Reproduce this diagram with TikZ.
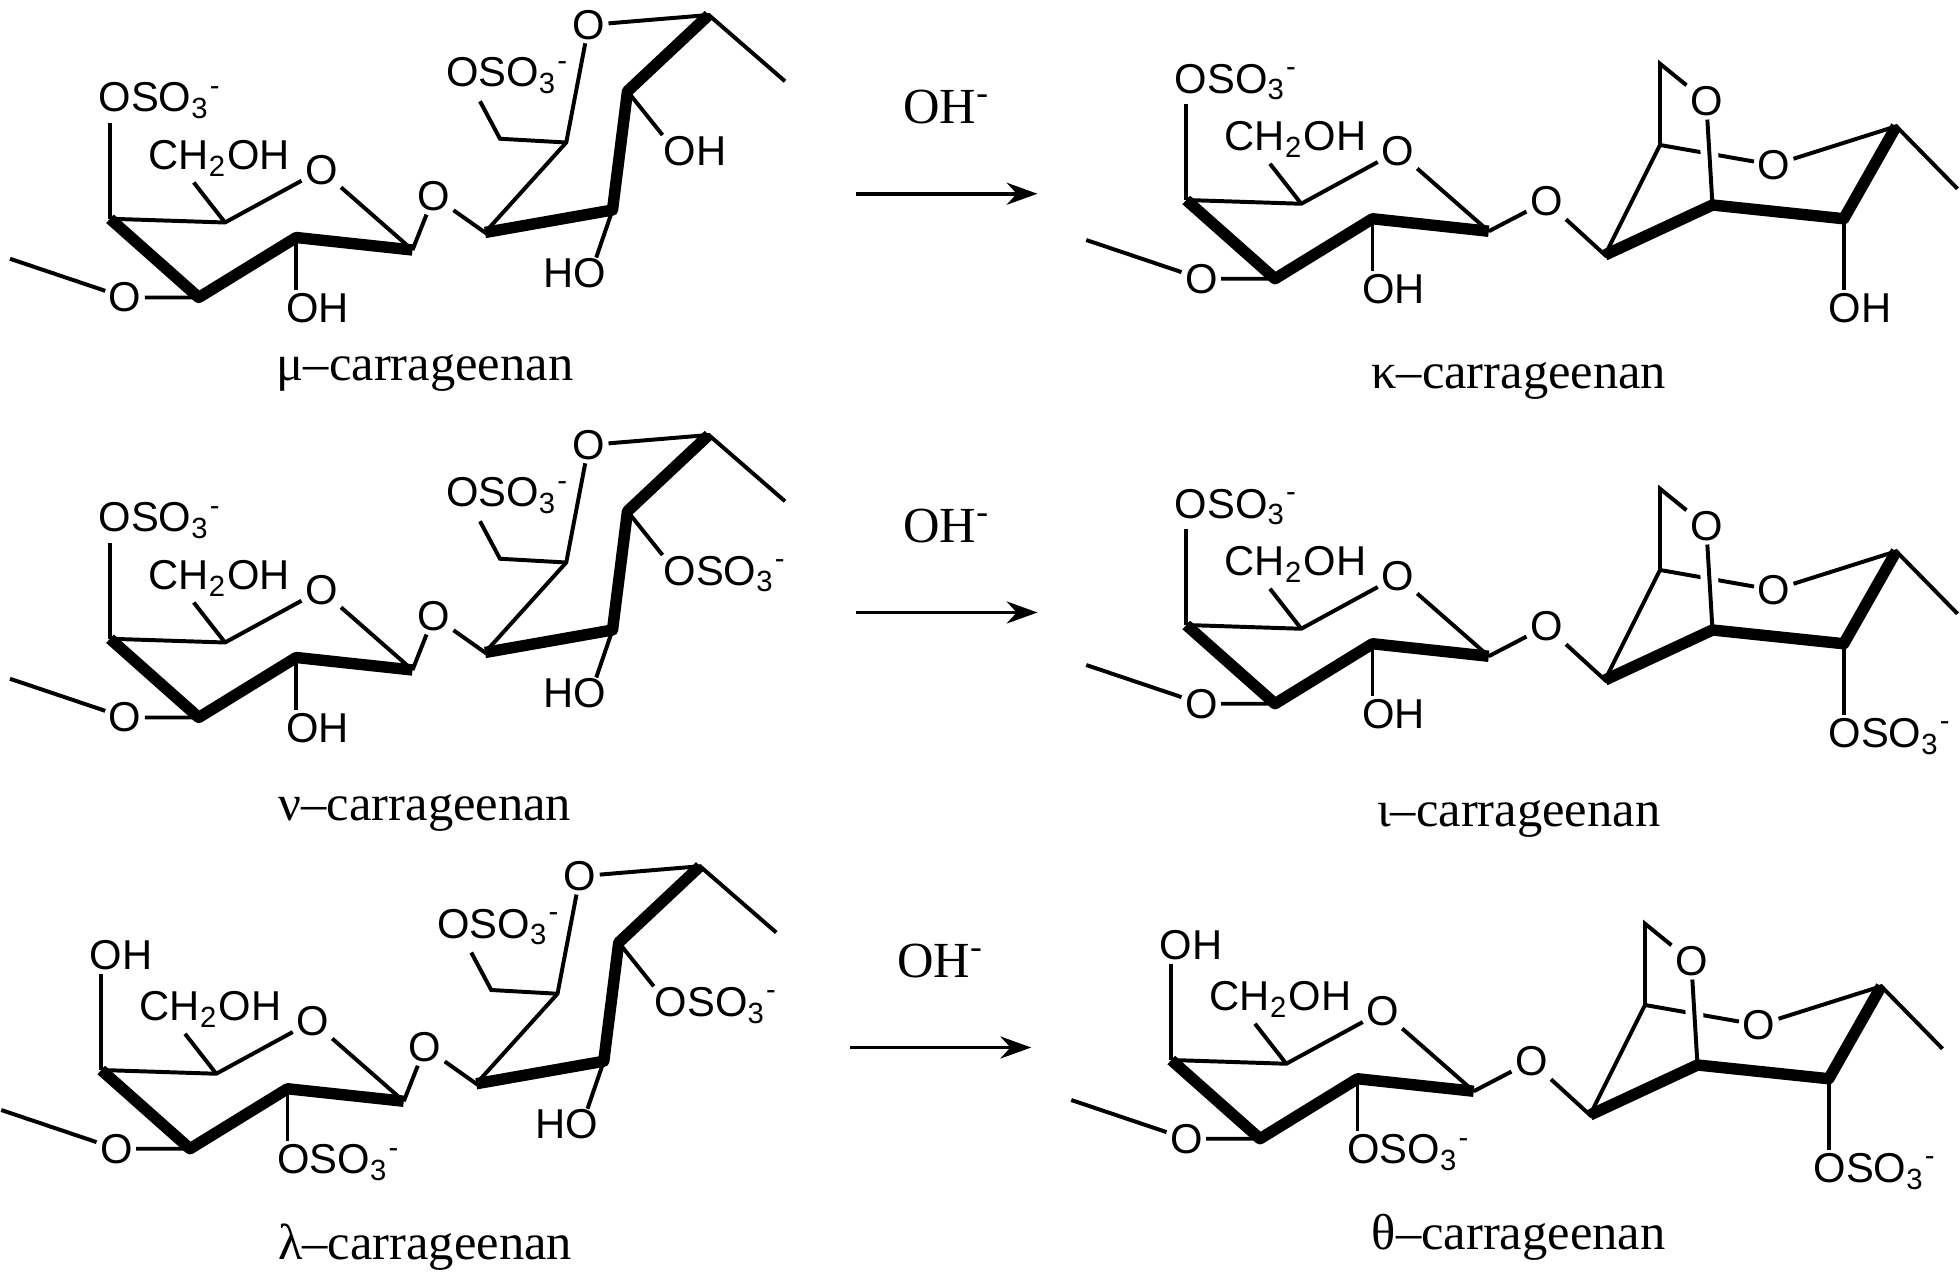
\documentclass[tikz,border=0pt]{standalone}
\usepackage{fontspec}
\setmainfont{Liberation Serif}
\newfontfamily\atomfont{Liberation Sans}
\usetikzlibrary{arrows.meta,positioning}
\newcommand{\sulfo}{OSO\textsubscript{3}\textsuperscript{-}}
% galactose ring, #1 prefix, #2 top label, #3 bottom label
\newcommand{\galunit}[3]{%
  \coordinate (#1s) at (8,207);
  \node[atom] (#1O4) at (100,238) {O};
  \coordinate (#1A) at (88,175);
  \coordinate (#1B) at (180,178);
  \node[atom] (#1O5) at (257,136) {O};
  \coordinate (#1C1) at (330,200);
  \coordinate (#1C2) at (237,190);
  \coordinate (#1C3) at (159,238);
  \node[atom, anchor=south west] (#1top) at (76,98) {#2};
  \node[atom, anchor=south west] (#1ch) at (116,144) {CH\textsubscript{2}OH};
  \node[atom, anchor=north west] (#1bot) at (226,232) {#3};
  \draw[bond] (#1s) -- (#1O4) -- (#1C3);
  \draw[bond] (#1A) -- (#1B) -- (#1O5) -- (#1C1);
  \draw[bold] (#1A) -- (#1C3) -- (#1C2) -- (#1C1);
  \draw[bond] (#1A) -- (#1A |- #1top.south);
  \draw[bond] (#1B) -- (155,146);
  \draw[bond] (#1C2) -- (#1C2 |- #1bot.north);
}
% 4-linked galactose (mu, nu, lambda), #1 prefix, #2 label at C3
\newcommand{\sulfunit}[2]{%
  \node[atom] (#1gO) at (347,157) {O};
  \coordinate (#1R1) at (388,186);
  \coordinate (#1R2) at (453,114);
  \coordinate (#1R6) at (567,12);
  \coordinate (#1R5) at (502,73);
  \coordinate (#1R4) at (490,168);
  \node[atom] (#1rO) at (471,20) {O};
  \node[atom, anchor=south west] (#1cs) at (354,78) {\sulfo};
  \node[atom, anchor=north west] (#1r5l) at (528,106) {#2};
  \node[atom, anchor=north east] (#1r4l) at (488,204) {HO};
  \draw[bond] (#1C1) -- (#1gO) -- (#1R1) -- (#1R2) -- (#1rO) -- (#1R6) -- (628,65);
  \draw[bond] (#1R2) -- (400,111) -- (384,81);
  \draw[bold] (#1R6) -- (#1R5) -- (#1R4) -- (#1R1);
  \draw[bond] (#1R5) -- (530,108);
  \draw[bond] (#1R4) -- (477,206);
}
% 3,6-anhydro unit (kappa, iota, theta), #1 prefix, #2 label at C2
\newcommand{\anhunit}[2]{%
  \node[atom] (#1gO) at (376,176) {O};
  \coordinate (#1R1) at (423,219);
  \coordinate (#1P) at (467,131);
  \coordinate (#1Q) at (467,66);
  \node[atom] (#1bO) at (504,96) {O};
  \coordinate (#1S) at (509,179);
  \node[atom] (#1rO) at (558,147) {O};
  \coordinate (#1T) at (656,116);
  \coordinate (#1U) at (614,190);
  \node[atom, anchor=north west] (#1ul) at (599,247) {#2};
  \draw[bond] (#1C1) -- (#1gO) -- (#1R1) -- (#1P) -- (#1rO) -- (#1T) -- (705,166);
  \draw[bond] (#1P) -- (#1Q) -- (#1bO);
  \draw[bond, preaction={draw, white, line width=4pt}] (#1bO) -- (#1S);
  \draw[bold] (#1R1) -- (#1S) -- (#1U) -- (#1T);
  \draw[bond] (#1U) -- (#1U |- #1ul.north);
}
\begin{document}
\begin{tikzpicture}[x=0.01cm, y=-0.01cm,
  bond/.style={line width=0.9pt},
  bold/.style={line width=2.6pt, line join=round},
  atom/.style={font=\atomfont\fontsize{9.5}{10}\selectfont, inner sep=0.6pt},
  cname/.style={font=\fontsize{11.5}{13}\selectfont},
  react/.style={-{Stealth[length=7pt, width=5pt]}, line width=0.9pt}]
\useasboundingbox (0,0) rectangle (1568,1024);
% mu
\galunit{mu}{\sulfo}{OH}
\sulfunit{mu}{OH}
% nu
\begin{scope}[shift={(0,336)}]
\galunit{nu}{\sulfo}{OH}
\sulfunit{nu}{\sulfo}
\end{scope}
% lambda
\begin{scope}[shift={(-7,681)}]
\galunit{la}{OH}{\sulfo}
\sulfunit{la}{\sulfo}
\end{scope}
% kappa
\begin{scope}[shift={(861,-15)}]
\galunit{ka}{\sulfo}{OH}
\anhunit{ka}{OH}
\end{scope}
% iota
\begin{scope}[shift={(861,325)}]
\galunit{io}{\sulfo}{OH}
\anhunit{io}{\sulfo}
\end{scope}
% theta
\begin{scope}[shift={(849,673)}]
\galunit{th}{OH}{\sulfo}
\anhunit{th}{\sulfo}
\end{scope}
% names
\node[cname] (muname) at (340,298) {μ–carrageenan};
\node[cname] (nuname) at (340,650) {ν–carrageenan};
\node[cname] (laname) at (340,998) {λ–carrageenan};
\node[cname] (kaname) at (1215,305) {κ–carrageenan};
\node[cname] (ioname) at (1215,655) {ι–carrageenan};
\node[cname] (thname) at (1215,990) {θ–carrageenan};
% arrows
\coordinate (a1) at (685,155); \coordinate (b1) at (830,155);
\coordinate (a2) at (685,490); \coordinate (b2) at (830,490);
\coordinate (a3) at (680,838); \coordinate (b3) at (825,838);
\draw[react] (a1) -- node[cname, above=12pt] (oh1) {OH\textsuperscript{-}} (b1);
\draw[react] (a2) -- node[cname, above=12pt] (oh2) {OH\textsuperscript{-}} (b2);
\draw[react] (a3) -- node[cname, above=12pt] (oh3) {OH\textsuperscript{-}} (b3);
\end{tikzpicture}
\end{document}
